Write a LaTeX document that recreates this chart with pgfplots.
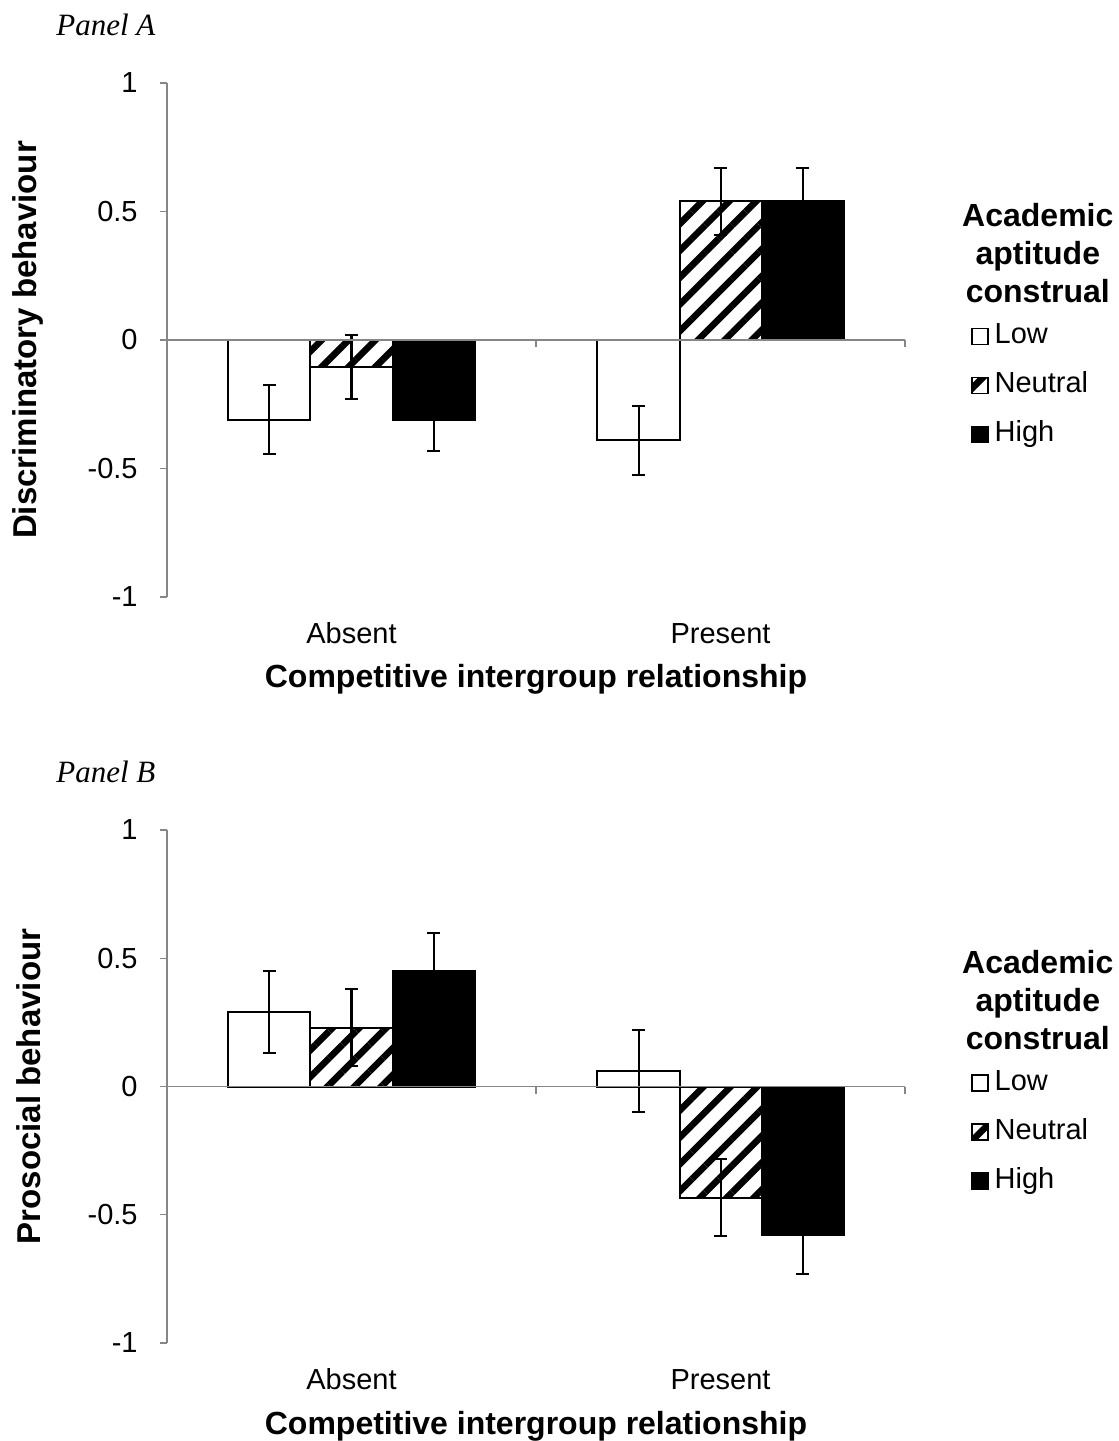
\documentclass[border=0pt]{standalone}
\usepackage{fontspec}
\setmainfont{Liberation Sans}
\newfontfamily\timesfont{Liberation Serif}
\usepackage{pgfplots}
\pgfplotsset{compat=1.18}
\usetikzlibrary{patterns.meta}
\definecolor{axgray}{RGB}{134,134,134}

\pgfplotsset{
  panel/.style={
    scale only axis,
    width=369pt,
    xmin=-0.5, xmax=1.5,
    ymin=-1, ymax=1,
    axis y line*=left,
    axis x line*=bottom,
    x axis line style={draw=none},
    y axis line style={axgray, line width=0.7pt},
    xtick={0,1},
    xticklabels={Absent,Present},
    xtick style={draw=none},
    ytick={-1,-0.5,0,0.5,1},
    yticklabels={-1,-0.5,0,0.5,1},
    ytick style={axgray, line width=0.7pt},
    tick align=outside,
    major tick length=3.7pt,
    tick label style={font=\fontsize{14.5}{17}\selectfont},
    yticklabel style={anchor=east, inner sep=0pt, xshift=-10.8pt},
    xticklabel style={anchor=base, inner sep=0pt, yshift=-19.5pt},
    every axis x label/.style={at={(axis description cs:0.5,0)}, anchor=base, yshift=-45.5pt,
      font=\bfseries\fontsize{16}{19}\selectfont},
    every axis y label/.style={at={(axis description cs:-0.188,0.5)}, rotate=90, anchor=center,
      font=\bfseries\fontsize{16.5}{19}\selectfont},
    xlabel={Competitive intergroup relationship},
    ybar=0pt, bar width=41pt,
    every axis plot post/.append style={
      legend image code/.code={\draw[##1, line width=0.8pt] (0pt,-4pt) rectangle (8pt,4pt);}
    },
    legend style={at={(rel axis cs:1.089,0.534)}, anchor=north west, draw=none, fill=none,
      font=\fontsize{14.5}{17}\selectfont, inner sep=0pt, row sep=11pt, column sep=3pt,
      nodes={inner sep=0pt, text height=10.5pt, text depth=3pt},
      cells={anchor=west}},
    legend cell align=left,
    clip=false,
  },
  errs/.style={error bars/.cd, y dir=both, y explicit,
    error bar style={black, line width=1pt},
    error mark options={rotate=90, mark size=3.3pt, black, line width=1pt}},
  lowbar/.style={draw=black, fill=white, line width=1pt, errs},
  neubar/.style={draw=black, line width=1pt, pattern={Lines[angle=45,distance=9.5pt,line width=3.3pt]}, pattern color=black, errs},
  highbar/.style={draw=black, fill=black, line width=1pt, errs},
}

\pgfplotstableread{
x y e
0 -0.31 0.135
1 -0.39 0.135
}\ALow
\pgfplotstableread{
x y e
0 -0.105 0.125
1 0.54 0.13
}\ANeu
\pgfplotstableread{
x y e
0 -0.31 0.12
1 0.54 0.13
}\AHigh
\pgfplotstableread{
x y e
0 0.29 0.16
1 0.06 0.16
}\BLow
\pgfplotstableread{
x y e
0 0.23 0.15
1 -0.433 0.15
}\BNeu
\pgfplotstableread{
x y e
0 0.45 0.15
1 -0.58 0.15
}\BHigh

\begin{document}
\begin{tikzpicture}
\useasboundingbox (0,0) rectangle (559.5pt,720.5pt);

\node[anchor=base west, inner sep=0pt, font=\timesfont\itshape\fontsize{15.5}{18}\selectfont] at (28pt,702.5pt) {Panel A};
\node[anchor=base west, inner sep=0pt, font=\timesfont\itshape\fontsize{15.5}{18}\selectfont] at (28pt,329pt) {Panel B};

\begin{axis}[panel, at={(83.5pt,422pt)}, anchor=south west, height=257pt,
  ylabel={Discriminatory behaviour}]
\addplot[lowbar] table[x=x,y=y,y error=e] {\ALow};
\addplot[neubar] table[x=x,y=y,y error=e] {\ANeu};
\addplot[highbar] table[x=x,y=y,y error=e] {\AHigh};
\legend{Low,Neutral,High}
\draw[axgray, line width=0.7pt] (axis cs:-0.5,0) -- (axis cs:1.5,0);
\draw[axgray, line width=0.7pt] (axis cs:0.5,0) -- ++(0pt,-3.7pt);
\draw[axgray, line width=0.7pt] (axis cs:1.5,0) -- ++(0pt,-3.7pt);
\node[align=center, inner sep=0pt, font=\bfseries\fontsize{16}{19}\selectfont] at (rel axis cs:1.18,0.669) {Academic\\aptitude\\construal};
\end{axis}

\begin{axis}[panel, at={(83.5pt,49pt)}, anchor=south west, height=256.5pt,
  ylabel={Prosocial behaviour}]
\addplot[lowbar] table[x=x,y=y,y error=e] {\BLow};
\addplot[neubar] table[x=x,y=y,y error=e] {\BNeu};
\addplot[highbar] table[x=x,y=y,y error=e] {\BHigh};
\legend{Low,Neutral,High}
\draw[axgray, line width=0.7pt] (axis cs:-0.5,0) -- (axis cs:1.5,0);
\draw[axgray, line width=0.7pt] (axis cs:0.5,0) -- ++(0pt,-3.7pt);
\draw[axgray, line width=0.7pt] (axis cs:1.5,0) -- ++(0pt,-3.7pt);
\node[align=center, inner sep=0pt, font=\bfseries\fontsize{16}{19}\selectfont] at (rel axis cs:1.18,0.669) {Academic\\aptitude\\construal};
\end{axis}
\end{tikzpicture}
\end{document}
